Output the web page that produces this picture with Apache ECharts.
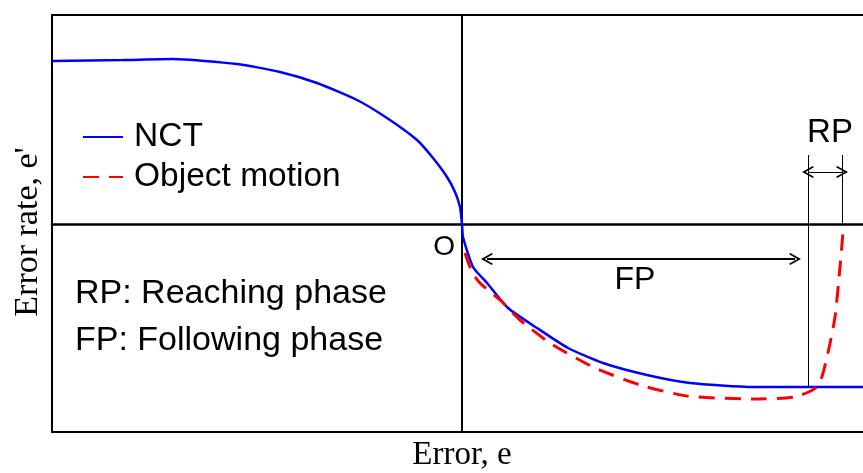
<!DOCTYPE html>
<html>
<head>
<meta charset="utf-8">
<script src="https://cdn.jsdelivr.net/npm/echarts@6/dist/echarts.min.js"></script>
<style>
  html, body { margin: 0; padding: 0; background: #fff; }
  #chart { width: 863px; height: 473px; }
</style>
</head>
<body>
<div id="chart"></div>
<script>
  // curve points [error, error rate], origin at the cross of the axes
  const nctCurve = [
    [-4.10, 1.63], [-3.39, 1.64], [-2.90, 1.65], [-2.25, 1.60], [-1.82, 1.52],
    [-1.45, 1.41], [-1.05, 1.24], [-0.75, 1.06], [-0.45, 0.84], [-0.29, 0.66],
    [-0.15, 0.47], [-0.07, 0.32], [-0.02, 0.17], [0, 0], [0.01, -0.13],
    [0.11, -0.43], [0.25, -0.59], [0.46, -0.84], [0.75, -1.04], [1.06, -1.24],
    [1.41, -1.39], [1.85, -1.51], [2.28, -1.59], [2.91, -1.63], [3.45, -1.63],
    [4.20, -1.63]
  ];
  const objectMotion = [
    [0.03, -0.29], [0.10, -0.48], [0.18, -0.59], [0.38, -0.76], [0.58, -0.96],
    [0.88, -1.19], [1.31, -1.43], [1.78, -1.61], [2.25, -1.72], [2.91, -1.75],
    [3.33, -1.73], [3.56, -1.62], [3.65, -1.33], [3.73, -0.93], [3.78, -0.43],
    [3.81, -0.08]
  ];
  // annotation segments
  const fpArrow = [[0.25, -0.35], [3.33, -0.35]];
  const rpArrow = [[3.46, 0.52], [3.80, 0.52]];
  const rpLeftLine = [[3.46, 0.69], [3.46, -1.63]];
  const rpRightLine = [[3.80, 0.69], [3.80, 0]];

  const arrowHead = 'path://M5,0 L10,9 L9,10 L5,3 L1,10 L0,9 Z';
  const sans = '"Liberation Sans", Arial, sans-serif';
  const serif = '"Liberation Serif", "Times New Roman", serif';

  let chart = echarts.init(document.getElementById('chart'));

  function seg(pts, withArrow) {
    return [
      {coord: pts[0], symbol: withArrow ? arrowHead : 'none'},
      {coord: pts[1], symbol: withArrow ? arrowHead : 'none'}
    ];
  }

  let option = {
    animation: false,
    grid: {
      show: true,
      left: 52,
      top: 15,
      width: 830,
      height: 417,
      outerBoundsMode: 'none',
      containLabel: false,
      borderColor: '#000',
      borderWidth: 2,
      backgroundColor: 'transparent'
    },
    xAxis: {
      type: 'value',
      min: -4.1,
      max: 4.2,
      axisLine: {onZero: true, lineStyle: {color: '#000', width: 2.5}},
      axisTick: {show: false},
      axisLabel: {show: false},
      splitLine: {show: false}
    },
    yAxis: {
      type: 'value',
      min: -2.08,
      max: 2.09,
      axisLine: {onZero: true, lineStyle: {color: '#000', width: 2}},
      axisTick: {show: false},
      axisLabel: {show: false},
      splitLine: {show: false}
    },
    legend: {
      data: ['NCT', 'Object motion'],
      orient: 'vertical',
      left: 77,
      top: 115,
      itemWidth: 40,
      itemHeight: 14,
      itemGap: 6,
      itemStyle: {color: 'transparent', borderWidth: 0},
      textStyle: {fontFamily: sans, fontSize: 33.5, color: '#000', lineHeight: 32, padding: [0, 0, 0, 6]}
    },
    graphic: [
      {type: 'text', x: 462, y: 472, style: {text: 'Error, e', font: '33px ' + serif, fill: '#000', align: 'center', verticalAlign: 'bottom'}},
      {type: 'text', x: 11, y: 232, rotation: Math.PI / 2,
        style: {text: "Error rate, e'", font: '34px ' + serif, fill: '#000', align: 'center', verticalAlign: 'top'}},
      {type: 'text', x: 455, y: 261, style: {text: 'O', font: '28px ' + sans, fill: '#000', align: 'right', verticalAlign: 'bottom'}},
      {type: 'text', x: 635, y: 296, style: {text: 'FP', font: '32px ' + sans, fill: '#000', align: 'center', verticalAlign: 'bottom'}},
      {type: 'text', x: 830, y: 149, style: {text: 'RP', font: '33px ' + sans, fill: '#000', align: 'center', verticalAlign: 'bottom'}},
      {type: 'text', x: 75, y: 311, style: {text: 'RP: Reaching phase', font: '34px ' + sans, fill: '#000', verticalAlign: 'bottom'}},
      {type: 'text', x: 75, y: 358, style: {text: 'FP: Following phase', font: '34px ' + sans, fill: '#000', verticalAlign: 'bottom'}}
    ],
    series: [
      {
        name: 'NCT',
        type: 'line',
        data: nctCurve,
        smooth: 0.2,
        symbol: 'none',
        lineStyle: {color: '#0000ff', width: 2.5},
        itemStyle: {color: '#0000ff'},
        z: 3
      },
      {
        name: 'Object motion',
        type: 'line',
        data: objectMotion,
        smooth: 0.2,
        symbol: 'none',
        lineStyle: {color: '#ff0000', width: 3, type: [16, 10]},
        itemStyle: {color: '#ff0000'},
        z: 4
      },
      {
        name: 'annotations',
        type: 'line',
        data: [],
        markLine: {
          silent: true,
          animation: false,
          symbolSize: [12, 12],
          label: {show: false},
          lineStyle: {color: '#000', type: 'solid', width: 1},
          data: [
            seg(fpArrow, true).map(d => Object.assign(d, {lineStyle: {width: 2}})),
            seg(rpArrow, true),
            seg(rpLeftLine, false),
            seg(rpRightLine, false)
          ]
        }
      }
    ]
  };
  chart.setOption(option);
</script>
</body>
</html>
